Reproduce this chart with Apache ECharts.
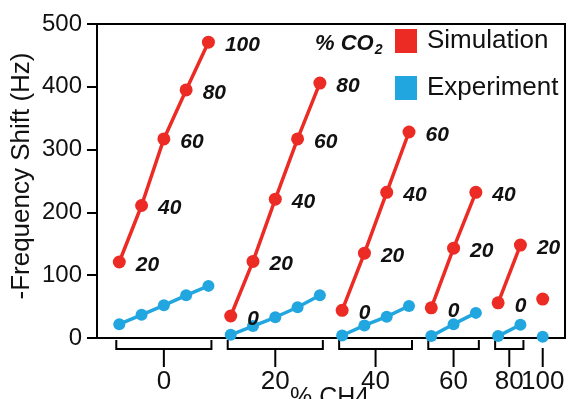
<!DOCTYPE html>
<html><head><meta charset="utf-8">
<script src="https://cdn.jsdelivr.net/npm/echarts@6/dist/echarts.min.js"></script>
<style>html,body{margin:0;padding:0;background:#fff}#c{width:568px;height:399px}</style>
</head><body><div id="c"></div>
<script>
// % CH4 groups (x-axis groups)
const ch4Labels = ['0', '20', '40', '60', '80', '100'];
// % CO2 levels within each CH4 group
const co2Levels = [[20, 40, 60, 80, 100], [0, 20, 40, 60, 80], [0, 20, 40, 60], [0, 20, 40], [0, 20], [0]];
// -Frequency shift (Hz)
const simulation = [[121, 211, 317, 395, 471], [35, 122, 221, 317, 406], [44, 135, 232, 328], [48, 143, 232], [56, 148], [62]];
const experiment = [[22, 37, 52, 68, 83], [5, 19, 33, 49, 68], [4, 20, 34, 51], [3, 22, 40], [3, 21], [2]];
const yTicks = [0, 100, 200, 300, 400, 500];

const RED = '#ec2b25', BLUE = '#22a6e0';
const FONT = '"Liberation Sans", Arial, Helvetica, sans-serif';

const series = [];
const brackets = [];
let idx = 0;
co2Levels.forEach((levels, g) => {
  const start = idx;
  const simData = [], expData = [];
  levels.forEach((co2, k) => {
    simData.push({ value: [idx, simulation[g][k]], co2: co2 });
    expData.push({ value: [idx, experiment[g][k]] });
    idx++;
  });
  brackets.push([start, idx - 1, g]);
  const labelled = levels.length > 1;
  series.push({
    name: 'Simulation', type: 'line', data: simData,
    symbol: 'circle', symbolSize: 13, z: 3,
    lineStyle: { color: RED, width: 3.5 }, itemStyle: { color: RED },
    label: {
      show: labelled, position: 'right', distance: 10, offset: [0, 3],
      formatter: p => String(p.data.co2),
      fontFamily: FONT, fontSize: 21, fontWeight: 'bold', fontStyle: 'italic', color: '#111'
    }
  });
  series.push({
    name: 'Experiment', type: 'line', data: expData,
    symbol: 'circle', symbolSize: 12, z: 2,
    lineStyle: { color: BLUE, width: 3.5 }, itemStyle: { color: BLUE }
  });
});

series.push({
  type: 'custom', data: brackets, clip: false, z: 1, silent: true,
  encode: { x: [0, 1], y: 2 },
  renderItem(params, api) {
    const s = api.value(0), e = api.value(1), lab = ch4Labels[api.value(2)];
    const p0 = api.coord([s, 0]), p1 = api.coord([e, 0]);
    const y0 = p0[1];
    const xs = p0[0] - 3, xe = p1[0] + 3, xc = (xs + xe) / 2;
    const children = [];
    if (e > s) {
      children.push({ type: 'polyline', shape: { points: [[xs, y0 + 2], [xs, y0 + 11], [xe, y0 + 11], [xe, y0 + 2]] },
        style: { stroke: '#000', lineWidth: 2, fill: null } });
    }
    children.push({ type: 'line', shape: { x1: xc, y1: y0 + 10, x2: xc, y2: y0 + 29 }, style: { stroke: '#000', lineWidth: 2 } });
    children.push({ type: 'text', style: { text: lab, x: xc, y: y0 + 44, align: 'center', verticalAlign: 'middle',
      fontSize: 26, fontFamily: FONT, fill: '#111' } });
    return { type: 'group', children };
  }
});

const chart = echarts.init(document.getElementById('c'), null, { renderer: 'canvas' });
chart.setOption({
  animation: false,
  backgroundColor: '#fff',
  grid: { left: 97, right: 3, top: 24, bottom: 61, show: true, borderColor: '#000', borderWidth: 2, backgroundColor: 'transparent' },
  xAxis: {
    type: 'value', min: -1, max: 20,
    axisLine: { show: true, onZero: false, lineStyle: { color: '#000', width: 2 } },
    axisTick: { show: false }, axisLabel: { show: false }, splitLine: { show: false }
  },
  yAxis: {
    type: 'value', min: yTicks[0], max: yTicks[yTicks.length - 1], interval: 100,
    axisLine: { show: true, onZero: false, lineStyle: { color: '#000', width: 2 } },
    axisTick: { show: true, length: 10, lineStyle: { color: '#000', width: 2 } },
    axisLabel: { fontSize: 24, fontFamily: FONT, color: '#111', margin: 15 },
    splitLine: { show: false }
  },
  legend: {
    data: ['Simulation', 'Experiment'], orient: 'vertical', left: 395, top: 28, padding: 0,
    icon: 'rect', itemWidth: 22, itemHeight: 24, itemGap: 21,
    textStyle: { fontSize: 26, fontFamily: FONT, color: '#111', padding: [0, 0, 0, 5], lineHeight: 24 }
  },
  graphic: [
    { type: 'text', x: 22, y: 176, rotation: Math.PI / 2,
      style: { text: '-Frequency Shift (Hz)', fontSize: 26, fontFamily: FONT, fill: '#111', align: 'center', verticalAlign: 'middle' } },
    { type: 'text', x: 315, y: 31,
      style: { text: '{a|% CO}{b|2}', fontFamily: FONT, fill: '#111',
        rich: { a: { fontSize: 22, fontWeight: 'bold', fontStyle: 'italic', fontFamily: FONT, color: '#111' },
                b: { fontSize: 14, fontWeight: 'bold', fontStyle: 'italic', fontFamily: FONT, color: '#111', padding: [12, 0, 0, 1] } } } },
    { type: 'text', x: 290, y: 386,
      style: { text: '% CH4', fontSize: 25, fontFamily: FONT, fill: '#111' } }
  ],
  series: series
});
</script></body></html>
